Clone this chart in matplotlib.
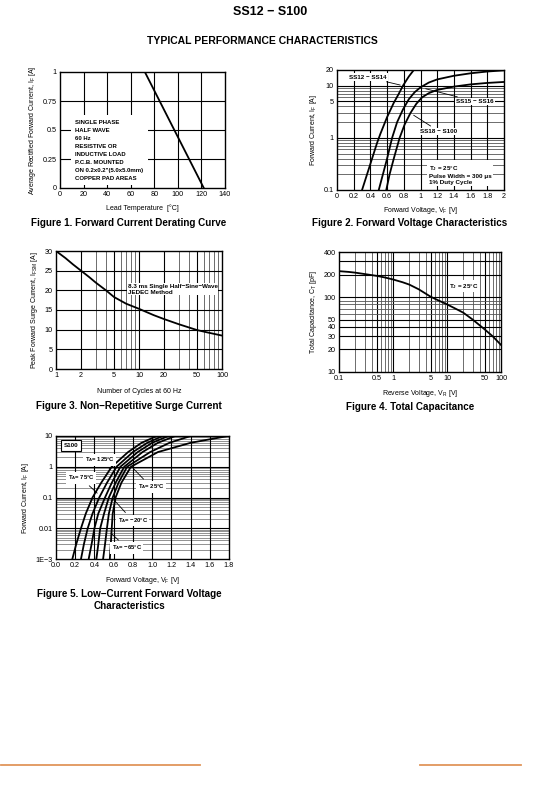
import matplotlib.pyplot as plt
from matplotlib.lines import Line2D

plt.rcParams['font.family'] = ['Liberation Sans', 'DejaVu Sans']
plt.rcParams['mathtext.fontset'] = 'custom'
plt.rcParams['mathtext.rm'] = 'Liberation Sans'
plt.rcParams['mathtext.bf'] = 'Liberation Sans:bold'

# ---- data ----
# Figure 1: derating
derate_temp = [72, 122]
derate_current = [1.0, 0.0]

# Figure 2: forward voltage characteristics
ss12_v = [0.30, 0.36, 0.42, 0.48, 0.52, 0.60, 0.68, 0.74, 0.79, 0.86, 0.92]
ss12_i = [0.1, 0.2, 0.4, 0.8, 1.2, 2.5, 4.7, 7.0, 10.0, 15.0, 20.0]
ss15_v = [0.50, 0.55, 0.60, 0.66, 0.72, 0.79, 0.86, 0.93, 1.00, 1.10, 1.20, 1.40, 1.60, 1.80, 2.00]
ss15_i = [0.1, 0.2, 0.4, 1.0, 2.0, 3.5, 5.5, 7.5, 9.3, 11.5, 13.2, 15.5, 17.3, 18.7, 19.7]
ss18_v = [0.59, 0.63, 0.68, 0.75, 0.81, 0.88, 0.95, 1.02, 1.10, 1.20, 1.40, 1.60, 1.80, 2.00]
ss18_i = [0.1, 0.2, 0.4, 1.0, 1.8, 3.0, 4.5, 6.0, 7.2, 8.3, 9.6, 10.6, 11.3, 11.8]

# Figure 3: surge current
surge_cycles = [1, 1.3, 1.6, 2, 2.5, 3, 4, 5, 7, 10, 15, 20, 30, 50, 70, 100]
surge_current = [30.0, 28.2, 26.6, 25.0, 23.4, 22.0, 20.0, 18.3, 16.6, 15.3, 13.7, 12.7, 11.4, 9.9, 9.2, 8.5]

# Figure 4: total capacitance
cap_vr = [0.1, 0.15, 0.2, 0.3, 0.5, 0.7, 1, 1.5, 2, 3, 5, 7, 10, 15, 20, 30, 50, 70, 100]
cap_pf = [222, 217, 212, 203, 192, 183, 172, 158, 147, 127, 101, 90, 80, 69, 62, 50, 37, 30, 23]

# Figure 5: low-current forward voltage, six temperatures
lc_i = [1e-3, 3e-3, 0.01, 0.03, 0.1, 0.3, 1.0, 3.0, 6.0, 10.0]
lc_v = [
    [0.17, 0.21, 0.26, 0.31, 0.38, 0.47, 0.58, 0.75, 0.89, 1.05],
    [0.26, 0.29, 0.33, 0.38, 0.45, 0.53, 0.63, 0.80, 0.95, 1.11],
    [0.34, 0.37, 0.40, 0.44, 0.51, 0.58, 0.67, 0.85, 1.00, 1.17],
    [0.42, 0.44, 0.46, 0.50, 0.55, 0.62, 0.71, 0.90, 1.06, 1.24],
    [0.49, 0.51, 0.53, 0.55, 0.59, 0.65, 0.74, 0.98, 1.18, 1.40],
    [0.56, 0.57, 0.58, 0.59, 0.62, 0.68, 0.78, 1.06, 1.40, 1.79],
]

W, H = 540, 793
fig = plt.figure(figsize=(W / 100, H / 100), dpi=100)


def axes_px(left, top, right, bottom):
    return fig.add_axes([left / W, 1 - bottom / H, (right - left) / W, (bottom - top) / H])


def style(ax):
    for s in ax.spines.values():
        s.set_linewidth(1.0)
    ax.tick_params(labelsize=5.2, length=0, pad=2.5)


def vgrid(ax, xs, color='black', lw=0.8):
    for x in xs:
        ax.axvline(x, color=color, lw=lw, zorder=0)


def hgrid(ax, ys, color='black', lw=0.8):
    for y in ys:
        ax.axhline(y, color=color, lw=lw, zorder=0)


LBL = 5.0
ANN = dict(fontsize=4.5, fontweight='bold')
KEEP = dict(color='black', lw=1.3)

# ---------- Figure 1 ----------
ax1 = axes_px(60, 72, 225, 188)
style(ax1)
ax1.set_xlim(0, 140)
ax1.set_ylim(0, 1)
vgrid(ax1, [20, 40, 60, 80, 100, 120])
hgrid(ax1, [0.25, 0.5, 0.75])
ax1.plot(derate_temp, derate_current, **KEEP)
ax1.set_xticks(range(0, 141, 20))
ax1.set_yticks([0, 0.25, 0.5, 0.75, 1])
ax1.set_yticklabels(['0', '0.25', '0.5', '0.75', '1'])
ax1.set_xlabel('Lead Temperature  [°C]', fontsize=LBL, labelpad=4)
ax1.set_ylabel('Average Rectified Forward Current, I$\\mathregular{_F}$ [A]', fontsize=LBL, labelpad=3)
ax1.text(13, 0.59, 'SINGLE PHASE\nHALF WAVE\n60 Hz\nRESISTIVE OR\nINDUCTIVE LOAD\nP.C.B. MOUNTED\n'
         'ON 0.2x0.2"(5.0x5.0mm)\nCOPPER PAD AREAS', fontsize=4.3, fontweight='bold',
         va='top', ha='left', linespacing=1.75,
         bbox=dict(facecolor='white', edgecolor='none', pad=3))

# ---------- Figure 2 ----------
ax2 = axes_px(337, 70, 504, 190)
style(ax2)
ax2.set_yscale('log')
ax2.set_xlim(0, 2)
ax2.set_ylim(0.1, 20)
hgrid(ax2, [0.2, 0.3, 0.4, 0.5, 0.6, 0.7, 0.8, 0.9, 2, 3, 4, 6, 7, 8, 9], color='#555555', lw=0.6)
hgrid(ax2, [1, 5, 10])
vgrid(ax2, [0.2 * k for k in range(1, 10)])
ax2.plot(ss12_v, ss12_i, **KEEP)
ax2.plot(ss15_v, ss15_i, **KEEP)
ax2.plot(ss18_v, ss18_i, **KEEP)
ax2.set_xticks([0.2 * k for k in range(11)])
ax2.set_xticklabels(['0', '0.2', '0.4', '0.6', '0.8', '1', '1.2', '1.4', '1.6', '1.8', '2'])
ax2.set_yticks([0.1, 1, 5, 10, 20])
ax2.set_yticklabels(['0.1', '1', '5', '10', '20'])
ax2.minorticks_off()
ax2.set_xlabel('Forward Voltage, V$\\mathregular{_F}$ [V]', fontsize=LBL, labelpad=3)
ax2.set_ylabel('Forward Current, I$\\mathregular{_F}$ [A]', fontsize=LBL, labelpad=3)
box = dict(facecolor='white', edgecolor='none', pad=1)
ax2.annotate('SS12 − SS14', xy=(0.79, 10), xytext=(0.14, 14.5), va='center', bbox=box,
             arrowprops=dict(arrowstyle='-', lw=0.6, color='black'), **ANN)
ax2.annotate('SS15 − SS16', xy=(1.03, 9.0), xytext=(1.43, 5.0), va='center', bbox=box,
             arrowprops=dict(arrowstyle='-', lw=0.6, color='black'), **ANN)
ax2.annotate('SS18 − S100', xy=(0.89, 2.9), xytext=(1.0, 1.33), va='center', bbox=box,
             arrowprops=dict(arrowstyle='-', lw=0.6, color='black'), **ANN)
ax2.text(1.1, 0.32, 'T$\\mathregular{_J}$ = 25°C\nPulse Width = 300 μs\n1% Duty Cycle', va='top',
         linespacing=1.3, bbox=dict(facecolor='white', edgecolor='none', pad=1), **ANN)

# ---------- Figure 3 ----------
ax3 = axes_px(56, 251, 222, 369)
style(ax3)
ax3.set_xscale('log')
ax3.set_xlim(1, 100)
ax3.set_ylim(0, 30)
vgrid(ax3, [3, 4, 6, 7, 8, 9, 30, 40, 60, 70, 80, 90], color='#555555', lw=0.6)
vgrid(ax3, [2, 5, 10, 20, 50])
hgrid(ax3, [5, 10, 15, 20, 25])
ax3.plot(surge_cycles, surge_current, **KEEP)
ax3.set_xticks([1, 2, 5, 10, 20, 50, 100])
ax3.set_xticklabels(['1', '2', '5', '10', '20', '50', '100'])
ax3.minorticks_off()
ax3.set_yticks(range(0, 31, 5))
ax3.set_xlabel('Number of Cycles at 60 Hz', fontsize=LBL, labelpad=6)
ax3.set_ylabel('Peak Forward Surge Current, I$\\mathregular{_{FSM}}$ [A]', fontsize=LBL, labelpad=3)
ax3.text(7.3, 20.3, '8.3 ms Single Half−Sine−Wave\nJEDEC Method', va='center', linespacing=1.2,
         bbox=dict(facecolor='white', edgecolor='none', pad=0.5), **ANN)

# ---------- Figure 4 ----------
ax4 = axes_px(339, 252, 501, 372)
style(ax4)
ax4.set_xscale('log')
ax4.set_yscale('log')
ax4.set_xlim(0.1, 100)
ax4.set_ylim(10, 400)
vgrid(ax4, [0.2, 0.3, 0.4, 0.6, 0.7, 0.8, 0.9, 2, 3, 4, 6, 7, 8, 9, 20, 30, 40, 60, 70, 80, 90],
      color='#555555', lw=0.6)
vgrid(ax4, [0.5, 1, 5, 10, 50])
hgrid(ax4, [60, 70, 80, 90], color='#555555', lw=0.6)
hgrid(ax4, [20, 30, 40, 50, 100, 200, 300])
ax4.plot(cap_vr, cap_pf, **KEEP)
ax4.set_xticks([0.1, 0.5, 1, 5, 10, 50, 100])
ax4.set_xticklabels(['0.1', '0.5', '1', '5', '10', '50', '100'])
ax4.set_yticks([10, 20, 30, 40, 50, 100, 200, 400])
ax4.set_yticklabels(['10', '20', '30', '40', '50', '100', '200', '400'])
ax4.minorticks_off()
ax4.set_xlabel('Reverse Voltage, V$\\mathregular{_R}$ [V]', fontsize=LBL, labelpad=4)
ax4.set_ylabel('Total Capacitance, C$\\mathregular{_T}$ [pF]', fontsize=LBL, labelpad=3)
ax4.text(11, 140, 'T$\\mathregular{_J}$ = 25°C', va='center',
         bbox=dict(facecolor='white', edgecolor='none', pad=1), **ANN)

# ---------- Figure 5 ----------
ax5 = axes_px(56, 436, 229, 559)
style(ax5)
ax5.set_yscale('log')
ax5.set_xlim(0, 1.8)
ax5.set_ylim(1e-3, 10)
minor_y = [m * 10.0 ** e for e in range(-3, 1) for m in range(2, 10)]
hgrid(ax5, minor_y, color='#666666', lw=0.5)
hgrid(ax5, [0.01, 0.1, 1])
vgrid(ax5, [0.2 * k for k in range(1, 9)])
for vs in lc_v:
    ax5.plot(vs, lc_i, **KEEP)
ax5.set_xticks([0.2 * k for k in range(10)])
ax5.set_xticklabels(['0.0', '0.2', '0.4', '0.6', '0.8', '1.0', '1.2', '1.4', '1.6', '1.8'])
ax5.set_yticks([1e-3, 0.01, 0.1, 1, 10])
ax5.set_yticklabels(['1E−3', '0.01', '0.1', '1', '10'])
ax5.minorticks_off()
ax5.set_xlabel('Forward Voltage, V$\\mathregular{_F}$ [V]', fontsize=LBL, labelpad=4)
ax5.set_ylabel('Forward Current, I$\\mathregular{_F}$ [A]', fontsize=LBL, labelpad=3)
ax5.text(0.08, 5.0, 'S100', va='center',
         bbox=dict(facecolor='white', edgecolor='black', lw=0.8, pad=2), **ANN)
lead = dict(arrowstyle='-', lw=0.6, color='black')
small = dict(fontsize=4.2, fontweight='bold')
ax5.annotate('T$\\mathregular{_A}$= 125°C', xy=(0.58, 0.76), xytext=(0.30, 1.7), va='center',
             bbox=box, arrowprops=lead, **small)
ax5.annotate('T$\\mathregular{_A}$= 75°C', xy=(0.45, 0.12), xytext=(0.12, 0.43), va='center',
             bbox=box, arrowprops=lead, **small)
ax5.annotate('T$\\mathregular{_A}$= 25°C', xy=(0.79, 0.98), xytext=(0.85, 0.22), va='center',
             bbox=box, arrowprops=lead, **small)
ax5.annotate('T$\\mathregular{_A}$= −20°C', xy=(0.58, 0.1), xytext=(0.64, 0.018), va='center',
             bbox=box, arrowprops=lead, **small)
ax5.annotate('T$\\mathregular{_A}$= −65°C', xy=(0.55, 0.008), xytext=(0.58, 0.0023), va='center',
             bbox=box, arrowprops=lead, **small)

# ---------- titles and captions ----------
fig.text(270 / W, 1 - 12 / H, 'SS12 − S100', ha='center', va='center', fontsize=9, fontweight='bold')
fig.text(262 / W, 1 - 41 / H, 'TYPICAL PERFORMANCE CHARACTERISTICS', ha='center', va='center',
         fontsize=7.5, fontweight='bold')
cap = dict(ha='center', va='center', fontsize=7.1, fontweight='bold')
fig.text(129 / W, 1 - 223 / H, 'Figure 1. Forward Current Derating Curve', **cap)
fig.text(410 / W, 1 - 223 / H, 'Figure 2. Forward Voltage Characteristics', **cap)
fig.text(129 / W, 1 - 406 / H, 'Figure 3. Non−Repetitive Surge Current', **cap)
fig.text(410 / W, 1 - 407 / H, 'Figure 4. Total Capacitance', **cap)
fig.text(129 / W, 1 - 600 / H, 'Figure 5. Low−Current Forward Voltage\nCharacteristics', linespacing=1.2, **cap)

# orange footer rules
fig.add_artist(Line2D([1 / W, 200 / W], [1 - 765 / H] * 2, color='#E0955A', lw=1.3))
fig.add_artist(Line2D([420 / W, 521 / W], [1 - 765 / H] * 2, color='#E0955A', lw=1.3))

fig.savefig('out.png', dpi=100)
